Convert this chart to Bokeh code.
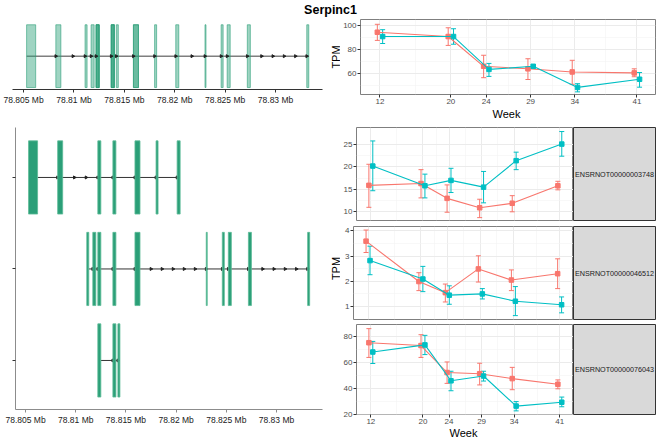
import numpy as np
from bokeh.plotting import figure
from bokeh.layouts import row, column
from bokeh.models import ColumnDataSource, Range1d, FixedTicker, Whisker, TeeHead
from bokeh.core.properties import value
from bokeh.embed import file_html
from bokeh.resources import INLINE

FONT = "Liberation Sans"

title_text = "Serpinc1"
week_label = "Week"
tpm_label = "TPM"

weeks = [12, 20, 24, 29, 34, 41]
group_colors = ["#F8766D", "#00BFC4"]
group_offsets = [-0.3, 0.3]

# gene-level TPM (red group = a, teal group = b)
gene_a_mean = [94.7, 91.1, 66.3, 64.2, 61.6, 60.8]
gene_a_lo = [87.9, 83.7, 56.8, 55.3, 51.3, 57.6]
gene_a_hi = [101.3, 98.4, 75.5, 72.6, 71.3, 64.2]
gene_b_mean = [91.1, 91.1, 63.7, 66.3, 48.7, 55.5]
gene_b_lo = [85.3, 84.7, 57.9, 64.7, 45.0, 48.9]
gene_b_hi = [96.8, 97.6, 68.7, 67.6, 51.8, 61.1]

tx_names = ["ENSRNOT00000003748", "ENSRNOT00000046512", "ENSRNOT00000076043"]

tx1_a_mean = [15.9, 16.3, 13.0, 10.9, 11.9, 15.8]
tx1_a_lo = [11.0, 13.1, 9.9, 8.7, 10.0, 14.9]
tx1_a_hi = [20.6, 19.4, 16.0, 12.8, 13.6, 16.8]
tx1_b_mean = [20.2, 15.8, 17.0, 15.5, 21.4, 25.1]
tx1_b_lo = [14.7, 13.1, 14.3, 12.0, 19.4, 22.4]
tx1_b_hi = [25.8, 18.4, 19.7, 19.0, 23.3, 27.9]

tx2_a_mean = [3.59, 1.99, 1.55, 2.49, 2.05, 2.30]
tx2_a_lo = [3.14, 1.63, 1.18, 1.97, 1.63, 1.71]
tx2_a_hi = [4.03, 2.34, 1.89, 3.01, 2.45, 2.89]
tx2_b_mean = [2.82, 2.09, 1.45, 1.50, 1.21, 1.07]
tx2_b_lo = [2.26, 1.59, 1.09, 1.30, 0.64, 0.75]
tx2_b_hi = [3.39, 2.59, 1.82, 1.71, 1.79, 1.38]

tx3_a_mean = [75.3, 73.1, 52.2, 51.3, 47.5, 43.1]
tx3_a_lo = [63.9, 63.9, 43.8, 42.6, 38.9, 39.6]
tx3_a_hi = [86.2, 81.5, 60.4, 59.4, 56.2, 46.5]
tx3_b_mean = [68.1, 73.6, 45.8, 49.5, 26.2, 29.2]
tx3_b_lo = [59.2, 66.1, 38.1, 45.6, 22.5, 25.7]
tx3_b_hi = [76.3, 81.0, 53.2, 53.2, 29.7, 33.2]

# genomic structure (Mb)
genome_ticks = [78.805, 78.81, 78.815, 78.82, 78.825, 78.83]
genome_tick_labels = ["78.805 Mb", "78.81 Mb", "78.815 Mb", "78.82 Mb", "78.825 Mb", "78.83 Mb"]
exon_start = [78.8053, 78.8082, 78.8111, 78.8117, 78.8122, 78.8137, 78.8142, 78.8159,
              78.8180, 78.8201, 78.8230, 78.8246, 78.8252, 78.8272, 78.8331]
exon_end = [78.8062, 78.8087, 78.8113, 78.8120, 78.8125, 78.8140, 78.8144, 78.8164,
            78.8182, 78.8204, 78.8231, 78.8248, 78.8255, 78.8275, 78.8333]
track_exons = [[0, 1, 4, 5, 7, 8, 9],
               [2, 3, 4, 5, 7, 10, 11, 12, 13, 14],
               [4, 5, 6]]
track_rows = [3, 2, 1]

EXON_GREEN = "#2B9F78"
EXON_EDGE = "#5DBB97"


def arrow_positions(ids):
    s = sorted(ids, key=lambda i: exon_start[i])
    xs = []
    for a, b in zip(s[:-1], s[1:]):
        left, right = exon_end[a], exon_start[b]
        L = right - left
        if L <= 0:
            continue
        n = max(1, int(L / 0.001))
        xs += [left + L * k / n for k in range(1, n + 1)]
    return xs


def blank_fig(width, height, **kw):
    p = figure(width=width, height=height, x_range=Range1d(0, 1), y_range=Range1d(0, 1),
               output_backend="svg", toolbar_location=None,
               x_axis_location=None, y_axis_location=None, **kw)
    p.grid.visible = False
    p.outline_line_color = None
    return p


def genome_axis(ax):
    ax.ticker = FixedTicker(ticks=genome_ticks)
    ax.major_label_overrides = dict(zip(genome_ticks, genome_tick_labels))
    ax.major_label_text_font = FONT
    ax.major_label_text_font_size = "8.5px"
    ax.major_label_text_color = "#1A1A1A"
    ax.major_tick_out = 3
    ax.major_tick_in = 0
    ax.major_label_standoff = 2
    ax.minor_tick_line_color = None


# ---------- title ----------
title_fig = blank_fig(660, 18, min_border=0)
title_fig.text(x=[0.5], y=[0.5], text=[title_text], text_font=value(FONT),
               text_font_style="bold", text_font_size="12.5px",
               text_align="center", text_baseline="middle", text_color="#000000")

# ---------- top-left: merged gene ----------
tl = figure(width=330, height=102, x_range=Range1d(78.8039, 78.83466), y_range=Range1d(-0.425, 0.48),
            output_backend="svg", toolbar_location=None,
            min_border_left=12, min_border_right=8, min_border_top=0, min_border_bottom=31)
tl.yaxis.visible = False
tl.grid.visible = False
tl.outline_line_color = None
genome_axis(tl.xaxis[0])
tl.xaxis.axis_line_color = "#333333"
tl.xaxis.major_tick_line_color = "#333333"
tl.line(x=[min(exon_start), max(exon_end)], y=[0, 0], line_color="#7F7F7F", line_width=1.5)
for ids in track_exons:
    tl.quad(left=[exon_start[i] for i in ids], right=[exon_end[i] for i in ids],
            bottom=-0.4, top=0.4, fill_color=EXON_GREEN, fill_alpha=0.45,
            line_color=EXON_GREEN, line_alpha=0.6, line_width=1)
ax_all = arrow_positions(list(range(len(exon_start))))
tl.scatter(x=ax_all, y=[0] * len(ax_all), marker="triangle", angle=-np.pi / 2,
           size=3, color="#222222")

# ---------- bottom-left: transcripts ----------
bl = figure(width=330, height=319, x_range=Range1d(78.8040, 78.83458), y_range=Range1d(0.464, 3.546),
            output_backend="svg", toolbar_location=None,
            min_border_left=15, min_border_right=8, min_border_top=7, min_border_bottom=30)
bl.grid.visible = False
bl.outline_line_color = None
genome_axis(bl.xaxis[0])
bl.xaxis.axis_line_color = "#8C8C8C"
bl.xaxis.major_tick_line_color = "#8C8C8C"
bl.yaxis.ticker = FixedTicker(ticks=track_rows)
bl.yaxis.major_label_overrides = {t: "" for t in track_rows}
bl.yaxis.major_label_standoff = 0
bl.yaxis.axis_line_color = "#8C8C8C"
bl.yaxis.major_tick_line_color = "#333333"
bl.yaxis.major_tick_out = 3
bl.yaxis.major_tick_in = 0
bl.yaxis.minor_tick_line_color = None
for ids, yrow in zip(track_exons, track_rows):
    xs0 = min(exon_end[i] for i in ids)
    xs1 = max(exon_start[i] for i in ids)
    bl.line(x=[xs0, xs1], y=[yrow, yrow], line_color="#333333", line_width=1)
    arr = arrow_positions(ids)
    bl.scatter(x=arr, y=[yrow] * len(arr), marker="triangle", angle=-np.pi / 2,
               size=3, color="#222222")
    bl.quad(left=[exon_start[i] for i in ids], right=[exon_end[i] for i in ids],
            bottom=yrow - 0.4, top=yrow + 0.4, fill_color=EXON_GREEN,
            line_color=EXON_EDGE, line_width=0.8)


# ---------- time-series panels ----------
xminor = [(a + b) / 2 for a, b in zip(weeks[:-1], weeks[1:])]


def add_series(p, mean, lo, hi, color, offset):
    src = ColumnDataSource(dict(x=[w + offset for w in weeks], m=mean, lo=lo, hi=hi))
    p.add_layout(Whisker(source=src, base="x", upper="hi", lower="lo", line_color=color, line_width=1,
                         upper_head=TeeHead(size=5, line_color=color, line_width=1),
                         lower_head=TeeHead(size=5, line_color=color, line_width=1)))
    p.line("x", "m", source=src, line_color=color, line_width=1.1)
    p.scatter("x", "m", source=src, marker="square", size=4.5, color=color)


def ts_fig(width, height, yr, yticks, yminor, left, right, top, bottom, show_x):
    p = figure(width=width, height=height, x_range=Range1d(9.8, 43.1), y_range=Range1d(*yr),
               output_backend="svg", toolbar_location=None,
               x_axis_location="below" if show_x else None,
               min_border_left=left, min_border_right=right, min_border_top=top, min_border_bottom=bottom)
    p.outline_line_color = "#7F7F7F"
    p.outline_line_width = 1
    p.xgrid.ticker = FixedTicker(ticks=weeks, minor_ticks=xminor)
    p.ygrid.ticker = FixedTicker(ticks=yticks, minor_ticks=yminor)
    for g in (p.xgrid[0], p.ygrid[0]):
        g.grid_line_color = "#EBEBEB"
        g.grid_line_width = 1
        g.minor_grid_line_color = "#F4F4F4"
        g.minor_grid_line_width = 0.6
    axes = [p.yaxis[0]]
    p.yaxis.ticker = FixedTicker(ticks=yticks)
    if show_x:
        p.xaxis.ticker = FixedTicker(ticks=weeks)
        axes.append(p.xaxis[0])
    for ax in axes:
        ax.axis_line_color = None
        ax.major_tick_line_color = "#333333"
        ax.major_tick_out = 3
        ax.major_tick_in = 0
        ax.minor_tick_line_color = None
        ax.major_label_text_font = FONT
        ax.major_label_text_font_size = "8px"
        ax.major_label_text_color = "#4D4D4D"
        ax.major_label_standoff = 1
    return p


def label_fig(width, height, top, bottom, text):
    p = blank_fig(width, height, min_border_left=0, min_border_right=0,
                  min_border_top=top, min_border_bottom=bottom)
    p.text(x=[0.5], y=[0.5], text=[text], text_font=value(FONT), text_font_size="11px",
           angle=np.pi / 2, text_align="center", text_baseline="middle", text_color="#000000")
    return p


def week_fig(width, height, left, right):
    p = blank_fig(width, height, min_border_left=left, min_border_right=right,
                  min_border_top=0, min_border_bottom=0)
    p.text(x=[0.5], y=[0.5], text=[week_label], text_font=value(FONT), text_font_size="11px",
           text_align="center", text_baseline="middle", text_color="#000000")
    return p


def strip_fig(width, height, top, bottom, text):
    p = blank_fig(width, height, min_border_left=0, min_border_right=5,
                  min_border_top=top, min_border_bottom=bottom)
    p.background_fill_color = "#D9D9D9"
    p.outline_line_color = "#333333"
    p.outline_line_width = 1
    p.text(x=[0.5], y=[0.5], text=[text], text_font=value(FONT), text_font_size="7.2px",
           text_align="center", text_baseline="middle", text_color="#1A1A1A")
    return p


# top-right: gene TPM
tr = ts_fig(320, 88, (42.8, 105.3), [60, 80, 100], [50, 70, 90], 17, 5, 1, 12, True)
add_series(tr, gene_a_mean, gene_a_lo, gene_a_hi, group_colors[0], group_offsets[0])
add_series(tr, gene_b_mean, gene_b_lo, gene_b_hi, group_colors[1], group_offsets[1])
tr_lab = label_fig(10, 88, 1, 12, tpm_label)
tr_week = week_fig(330, 14, 27, 5)

# bottom-right facets
f1 = ts_fig(233, 103, (8.06, 28.8), [10, 15, 20, 25], [12.5, 17.5, 22.5], 13, 0, 7, 3, False)
add_series(f1, tx1_a_mean, tx1_a_lo, tx1_a_hi, group_colors[0], group_offsets[0])
add_series(f1, tx1_b_mean, tx1_b_lo, tx1_b_hi, group_colors[1], group_offsets[1])
s1 = strip_fig(87, 103, 7, 3, tx_names[0])

f2 = ts_fig(233, 99, (0.486, 4.17), [1, 2, 3, 4], [1.5, 2.5, 3.5], 13, 0, 3, 3, False)
add_series(f2, tx2_a_mean, tx2_a_lo, tx2_a_hi, group_colors[0], group_offsets[0])
add_series(f2, tx2_b_mean, tx2_b_lo, tx2_b_hi, group_colors[1], group_offsets[1])
s2 = strip_fig(87, 99, 3, 3, tx_names[1])

f3 = ts_fig(233, 104, (19.7, 89.4), [20, 40, 60, 80], [30, 50, 70], 13, 0, 2, 12, True)
add_series(f3, tx3_a_mean, tx3_a_lo, tx3_a_hi, group_colors[0], group_offsets[0])
add_series(f3, tx3_b_mean, tx3_b_lo, tx3_b_hi, group_colors[1], group_offsets[1])
s3 = strip_fig(87, 104, 2, 12, tx_names[2])

br_week = week_fig(233, 13, 13, 0)

br_lab = label_fig(10, 319, 7, 25, tpm_label)

facets = column(row(f1, s1), row(f2, s2), row(f3, s3), br_week)
layout = column(title_fig,
                row(tl, column(row(tr_lab, tr), tr_week)),
                row(bl, br_lab, facets))

open("out.html", "w").write(file_html(layout, INLINE))
